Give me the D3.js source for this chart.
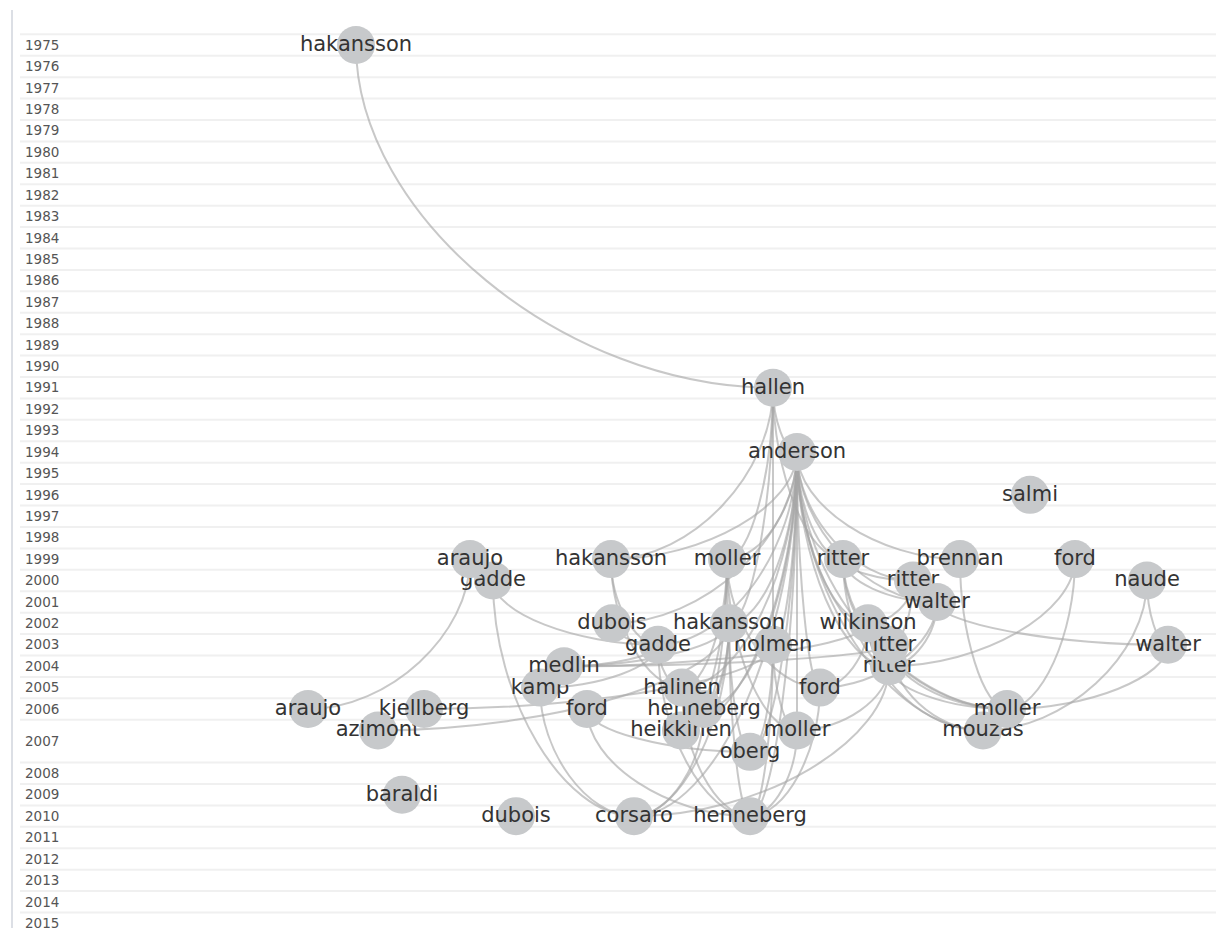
<!DOCTYPE html>
<html>
<head>
<meta charset="utf-8">
<style>
  body { margin: 0; padding: 0; background: #fff; }
  svg { display: block; background: #fff; }
  .year { font: 13.5px "DejaVu Sans", sans-serif; fill: #555; }
  .stripe { stroke: #f0f0f0; stroke-width: 2; }
  .border { stroke: #dcdfe5; stroke-width: 2; }
  .link { fill: none; stroke: #a6a6a6; stroke-opacity: 0.62; stroke-width: 2; }
  .node circle { fill: #c7c9cb; }
  .node text { font: 21px "DejaVu Sans", sans-serif; fill: #333; text-anchor: middle; }
</style>
<script src="https://cdnjs.cloudflare.com/ajax/libs/d3/7.8.5/d3.min.js"></script>
</head>
<body>
<svg width="1216" height="928"></svg>
<script>
// years shown on the left, one row each
const years = d3.range(1975, 2016);

// nodes, in drawing order (later ones sit on top)
const ids = ["oberg", "heikkinen", "moller07", "mouzas", "azimont", "henneberg06", "araujo06", "kjellberg",
  "moller06", "kamp", "ford06", "halinen", "ford05", "medlin", "ritter04", "ritter03", "holmen", "gadde03",
  "walter03", "wilkinson", "hakansson02", "dubois02", "ritter00", "walter01", "gadde00", "araujo99", "naude",
  "hakansson99", "moller99", "ritter99", "brennan", "ford99", "salmi", "anderson", "hallen", "hakansson75",
  "baraldi", "dubois10", "corsaro", "henneberg10"];
const names = ["oberg", "heikkinen", "moller", "mouzas", "azimont", "henneberg", "araujo", "kjellberg",
  "moller", "kamp", "ford", "halinen", "ford", "medlin", "ritter", "ritter", "holmen", "gadde",
  "walter", "wilkinson", "hakansson", "dubois", "ritter", "walter", "gadde", "araujo", "naude",
  "hakansson", "moller", "ritter", "brennan", "ford", "salmi", "anderson", "hallen", "hakansson",
  "baraldi", "dubois", "corsaro", "henneberg"];
const nodeYears = [2007, 2007, 2007, 2007, 2007, 2006, 2006, 2006,
  2006, 2005, 2006, 2005, 2005, 2004, 2004, 2003, 2003, 2003,
  2003, 2002, 2002, 2002, 2000, 2001, 2000, 1999, 2000,
  1999, 1999, 1999, 1999, 1999, 1996, 1994, 1991, 1975,
  2009, 2010, 2010, 2010];
// sub-level inside a year row (the 2007 row holds two levels)
const subLevels = [1, 0, 0, 0, 0, 0, 0, 0,
  0, 0, 0, 0, 0, 0, 0, 0, 0, 0,
  0, 0, 0, 0, 0, 0, 0, 0, 0,
  0, 0, 0, 0, 0, 0, 0, 0, 0,
  0, 0, 0, 0];
// horizontal layout position of each node
const positions = [750, 681, 797, 983, 378, 704, 308, 424,
  1007, 540, 587, 682, 820, 564, 889, 890, 773, 658,
  1168, 868, 729, 612, 913, 937, 493, 470, 1147,
  611, 727, 843, 960, 1075, 1030, 797, 773, 356,
  402, 516, 634, 750];

// citation links, older paper -> newer paper
const linkFrom = ["hakansson75", "hallen", "hallen", "hallen", "hallen", "hallen", "hallen",
  "anderson", "anderson", "anderson", "anderson", "anderson", "anderson", "anderson", "anderson",
  "anderson", "anderson", "anderson", "anderson", "anderson", "anderson", "anderson", "anderson",
  "anderson", "anderson", "anderson", "anderson", "anderson", "anderson", "anderson",
  "araujo99", "gadde00", "gadde00", "hakansson99", "hakansson99",
  "moller99", "moller99", "moller99", "moller99", "moller99", "moller99",
  "ritter99", "ritter99", "ritter99", "ritter99", "ritter99", "ritter00", "ritter00",
  "brennan", "ford99", "ford99", "naude", "naude", "walter01", "walter01", "walter01",
  "dubois02", "hakansson02", "hakansson02", "hakansson02", "hakansson02", "hakansson02", "hakansson02", "hakansson02",
  "wilkinson", "wilkinson", "wilkinson", "wilkinson", "gadde03", "gadde03", "gadde03", "gadde03",
  "holmen", "holmen", "holmen", "holmen", "ritter03", "ritter03", "ritter03", "walter03",
  "ritter04", "ritter04", "ritter04", "kamp", "halinen", "ford05", "ford06", "ford06", "henneberg06", "moller07"];
const linkTo = ["hallen", "anderson", "hakansson99", "moller99", "hakansson02", "holmen", "ritter99",
  "hakansson99", "moller99", "ritter99", "brennan", "ritter00", "walter01", "dubois02", "hakansson02",
  "wilkinson", "gadde03", "holmen", "ritter03", "ritter04", "halinen", "ford05", "henneberg06",
  "heikkinen", "moller07", "oberg", "moller06", "mouzas", "corsaro", "henneberg10",
  "araujo06", "gadde03", "corsaro", "gadde03", "halinen",
  "hakansson02", "henneberg06", "heikkinen", "halinen", "moller07", "ford05",
  "ritter00", "walter01", "wilkinson", "ritter04", "moller06", "ritter03", "wilkinson",
  "moller06", "ritter04", "moller06", "walter03", "mouzas", "walter03", "ritter04", "ford05",
  "gadde03", "medlin", "henneberg06", "heikkinen", "oberg", "corsaro", "henneberg10", "azimont",
  "ritter04", "ford05", "mouzas", "medlin", "halinen", "henneberg10", "medlin", "kamp",
  "kjellberg", "oberg", "moller07", "henneberg10", "moller06", "mouzas", "medlin", "moller06",
  "moller06", "moller07", "corsaro", "corsaro", "henneberg10", "henneberg10", "henneberg10", "oberg", "corsaro", "henneberg10"];

const W = 1216, H = 928, rowH = 21.42, topY = 34.3;
const svg = d3.select("svg");

// rows: a year with a second level gets twice the height
const span = years.map(yr => 1 + d3.max(nodeYears.map((y, i) => y === yr ? subLevels[i] : 0)));
const offsets = [0, ...d3.cumsum(span)];
const total = offsets[offsets.length - 1];
const rowOf = new Map(years.map((yr, i) => [yr, i]));

const y = d3.scaleLinear().domain([0, total]).range([topY, topY + total * rowH]);
const x = d3.scaleLinear().domain([0, W]).range([0, W]);

// background stripes and year labels
svg.append("g").selectAll("line")
  .data(offsets)
  .join("line")
  .attr("class", "stripe")
  .attr("x1", 20).attr("x2", W)
  .attr("y1", d => y(d)).attr("y2", d => y(d));

svg.append("line").attr("class", "border")
  .attr("x1", 12).attr("x2", 12).attr("y1", 10).attr("y2", H);

svg.append("g").selectAll("text")
  .data(years)
  .join("text")
  .attr("class", "year")
  .attr("x", 25)
  .attr("y", (d, i) => y(offsets[i] + span[i] / 2))
  .attr("dy", "0.35em")
  .text(d => d);

// node coordinates
const nodes = ids.map((id, i) => ({
  id, name: names[i],
  cx: x(positions[i]),
  cy: y(offsets[rowOf.get(nodeYears[i])] + subLevels[i] + 0.5)
}));
const byId = new Map(nodes.map(n => [n.id, n]));

// links: leave the older node downwards, reach the newer one sideways
const k = 0.5;
function linkPath(s, t) {
  const p = d3.path();
  p.moveTo(s.cx, s.cy);
  p.bezierCurveTo(s.cx, s.cy + k * (t.cy - s.cy), t.cx - k * (t.cx - s.cx), t.cy, t.cx, t.cy);
  return p.toString();
}

svg.append("g").selectAll("path")
  .data(linkFrom.map((f, i) => [byId.get(f), byId.get(linkTo[i])]))
  .join("path")
  .attr("class", "link")
  .attr("d", d => linkPath(d[0], d[1]));

const node = svg.append("g").selectAll("g")
  .data(nodes)
  .join("g")
  .attr("class", "node")
  .attr("transform", d => `translate(${d.cx},${d.cy})`);

node.append("circle").attr("r", 19);
node.append("text").attr("dy", "0.28em").text(d => d.name);
</script>
</body>
</html>
